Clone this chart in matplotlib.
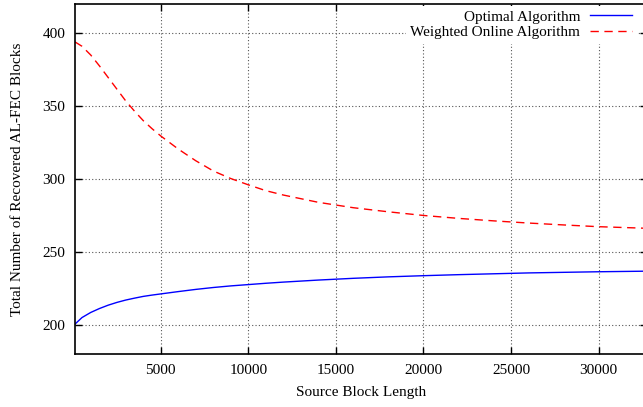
import matplotlib
matplotlib.use("Agg")
import matplotlib.pyplot as plt

# source block length samples
block_len = [100, 500, 1000, 1500, 2000, 2500, 3000, 3500, 4000, 4500, 5000, 6000, 7000, 8000, 9000,
             10000, 11000, 12000, 14000, 16000, 18000, 20000, 22000, 24000, 26000, 28000, 30000, 32768]
# weighted online algorithm (red dashed)
weighted = [394, 391, 385, 377.5, 369.5, 361.5, 353.5, 346.5, 340, 334.5, 329.5, 320.5, 312.5, 305.5, 300.3,
            296, 292, 289, 284, 280.3, 277.5, 275, 273, 271.3, 269.8, 268.5, 267.3, 266.2]
# optimal algorithm (blue solid)
optimal = [200.5, 205, 208.5, 211.2, 213.5, 215.4, 217, 218.3, 219.5, 220.4, 221.2, 222.8, 224.3, 225.6, 226.7,
           227.6, 228.5, 229.3, 230.7, 231.9, 232.9, 233.7, 234.4, 235.0, 235.6, 236.0, 236.4, 236.8]

plt.rcParams["font.family"] = ["Liberation Serif", "DejaVu Serif"]
fig = plt.figure(figsize=(6.43, 4.07), dpi=100)
ax = fig.add_axes([75/643, 53/407, 572/643, 350/407])

ax.plot(block_len, optimal, color="#0000ff", lw=1.0, label="Optimal Algorithm")
ax.plot(block_len, weighted, color="#ff0000", lw=1.0, dashes=(6, 4), label="Weighted Online Algorithm")

ax.set_xlim(100, 32768)
ax.set_ylim(180, 420)
ax.set_xticks([5000, 10000, 15000, 20000, 25000, 30000])
ax.set_yticks([200, 250, 300, 350, 400])
ax.grid(True, color="#555555", ls=(0, (1, 2)), lw=0.8)
ax.tick_params(direction="in", length=5, top=True, right=True, labelsize=11, width=1, pad=7)
for s in ax.spines.values():
    s.set_linewidth(1.2)
ax.set_xlabel("Source Block Length", fontsize=11, labelpad=7)
ax.set_ylabel("Total Number of Recovered AL-FEC Blocks", fontsize=11, labelpad=13)

leg = ax.legend(loc="upper right", markerfirst=False, fontsize=11, frameon=True, fancybox=False,
                borderaxespad=0.1, handlelength=2.8, handletextpad=0.6, labelspacing=0.12,
                borderpad=0.3, bbox_to_anchor=(0.985, 1.0))
leg.get_frame().set_edgecolor("none")
leg.get_frame().set_facecolor("white")
leg.get_frame().set_alpha(1)
for t in leg.get_texts():
    t.set_ha("right")

fig.savefig("out.png", dpi=100)
